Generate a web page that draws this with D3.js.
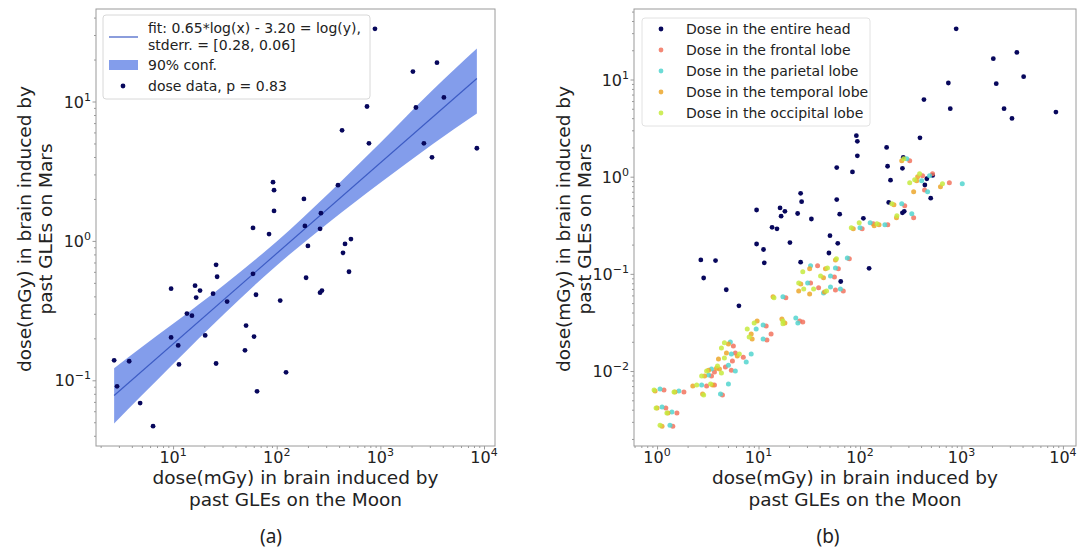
<!DOCTYPE html>
<html>
<head>
<meta charset="utf-8">
<title>Brain dose from past GLEs: Moon vs Mars</title>
<script src="https://cdn.jsdelivr.net/npm/d3@7"></script>
<style>
  body { margin: 0; background: #fff; }
  svg { font-family: "DejaVu Sans", sans-serif; }
</style>
</head>
<body>
<svg id="chart" width="1087" height="551"></svg>
<script>
// dose (mGy) in the entire head, one pair per GLE: [Moon, Mars]
const headDose = [
  [887, 33.2], [3516, 19.0], [2061, 16.4], [4102, 10.7], [743, 9.21], [2203, 9.06],
  [427, 6.21], [776, 5.01], [2630, 5.01], [8531, 4.62], [3148, 3.98], [92.1, 2.64],
  [94.2, 2.31], [390, 2.51], [183, 2.0], [94.2, 1.64], [59.0, 1.24], [84.3, 1.12],
  [187, 1.28], [267, 1.58], [262, 1.22], [200, 0.921], [520, 1.03], [456, 0.952],
  [436, 0.821], [498, 0.601], [26.0, 0.674], [26.6, 0.553], [59.0, 0.581], [192, 0.544],
  [9.57, 0.454], [16.3, 0.477], [18.2, 0.440], [16.7, 0.392], [24.3, 0.418], [63.1, 0.411],
  [262, 0.425], [273, 0.440], [108, 0.373], [33.2, 0.367], [13.6, 0.301], [15.2, 0.291],
  [50.6, 0.247], [60.4, 0.206], [20.4, 0.210], [9.57, 0.203], [11.2, 0.178], [49.4, 0.164],
  [2.70, 0.139], [3.77, 0.137], [11.4, 0.130], [26.0, 0.132], [123, 0.114], [2.88, 0.0906],
  [64.6, 0.0834], [4.81, 0.0686], [6.41, 0.0469]
];

// lobe doses: [Moon, Mars]
const frontalDose = [
  [1.17, 0.00637], [1.84, 0.00608], [1.22, 0.00416], [1.57, 0.00369], [1.43, 0.00271],
  [3.08, 0.00700], [4.41, 0.00566], [3.68, 0.00718], [3.44, 0.00887], [3.68, 0.00977],
  [4.72, 0.0110], [5.40, 0.0102], [5.91, 0.0153], [7.08, 0.0139], [5.53, 0.0127],
  [5.65, 0.0181], [13.3, 0.0241], [11.9, 0.0291], [12.1, 0.0209], [27.3, 0.0320],
  [25.5, 0.0328], [18.6, 0.0567], [32.6, 0.0807], [38.2, 0.121], [39.1, 0.0718],
  [57.3, 0.0684], [68.5, 0.0668], [56.0, 0.0931], [61.2, 0.113], [78.5, 0.143],
  [105, 0.291], [135, 0.327], [188, 0.320], [338, 0.378], [276, 0.502],
  [309, 1.46], [414, 1.02], [519, 1.07], [433, 0.73], [760, 0.867]
];
const parietalDose = [
  [1.07, 0.00652], [1.64, 0.00622], [1.12, 0.00426], [1.40, 0.00378], [1.34, 0.00277],
  [2.75, 0.00718], [4.22, 0.00580], [5.05, 0.00735], [3.22, 0.0091], [3.44, 0.0105],
  [5.05, 0.0115], [5.91, 0.0100], [5.40, 0.0150], [8.47, 0.0150], [7.57, 0.0124],
  [5.28, 0.0199], [9.48, 0.0271], [11.1, 0.0298], [11.1, 0.0214], [23.3, 0.0351],
  [24.4, 0.0313], [17.4, 0.0580], [30.5, 0.0807], [32.6, 0.121], [43.7, 0.0637],
  [51.2, 0.0734], [64.1, 0.0700], [51.2, 0.0953], [57.3, 0.115], [75.0, 0.146],
  [100, 0.298], [126, 0.336], [176, 0.320], [324, 0.416], [258, 0.527],
  [289, 1.53], [485, 1.02], [405, 0.91], [464, 0.70], [1019, 0.847]
];
const temporalDose = [
  [0.956, 0.00622], [1.50, 0.00608], [1.00, 0.00416], [1.28, 0.00369], [1.12, 0.00271],
  [2.25, 0.00700], [2.81, 0.00580], [3.52, 0.00718], [2.94, 0.00887], [3.22, 0.0102],
  [4.12, 0.0105], [3.85, 0.0107], [4.83, 0.0153], [6.18, 0.0143], [4.03, 0.0133],
  [5.05, 0.0190], [8.47, 0.0241], [9.69, 0.0328], [8.66, 0.0214], [17.0, 0.0343],
  [18.2, 0.0313], [13.9, 0.0580], [26.1, 0.0788], [31.9, 0.113], [24.9, 0.0668],
  [31.9, 0.0622], [44.7, 0.0652], [43.7, 0.0910], [45.7, 0.113], [57.3, 0.139],
  [85.9, 0.291], [138, 0.313], [154, 0.320], [229, 0.378], [216, 0.514],
  [258, 1.46], [370, 1.00], [362, 0.91], [338, 0.70], [621, 0.789]
];
const occipitalDose = [
  [0.935, 0.00637], [1.47, 0.00608], [0.978, 0.00416], [1.25, 0.00369], [1.07, 0.00277],
  [2.46, 0.00718], [2.88, 0.00566], [3.37, 0.00735], [2.75, 0.00887], [3.08, 0.0100],
  [4.31, 0.00953], [3.94, 0.0113], [4.31, 0.0173], [6.47, 0.0150], [4.61, 0.0136],
  [4.61, 0.0195], [7.74, 0.0271], [9.06, 0.0313], [8.09, 0.0224], [17.4, 0.0328],
  [17.4, 0.0306], [14.2, 0.0567], [24.9, 0.0807], [27.3, 0.105], [27.9, 0.0700],
  [34.9, 0.0700], [46.8, 0.0668], [40.9, 0.0953], [47.8, 0.115], [58.6, 0.143],
  [82.1, 0.298], [98.2, 0.336], [147, 0.327], [231, 0.396], [206, 0.527],
  [270, 1.53], [387, 1.07], [346, 0.93], [309, 0.867], [650, 0.847]
];

// fit (natural log): log(y) = 0.65*log(x) - 3.20, and its 90% confidence band
const fitSlope = 0.65;
const fitIntercept = -3.20;
const bandMoon = [2.7, 5, 10, 31.6, 100, 316, 1000, 3162, 8531];
const bandLow  = [0.049, 0.078, 0.131, 0.303, 0.667, 1.35, 2.61, 4.91, 8.2];
const bandHigh = [0.122, 0.173, 0.254, 0.489, 0.991, 2.19, 5.06, 12.0, 24.0];

const leftLegend = ['fit: 0.65*log(x) - 3.20 = log(y),', 'stderr. = [0.28, 0.06]', '90% conf.', 'dose data, p = 0.83'];
const seriesNames = ['Dose in the entire head', 'Dose in the frontal lobe', 'Dose in the parietal lobe',
                     'Dose in the temporal lobe', 'Dose in the occipital lobe'];
const seriesColors = ['#07075c', '#f2735e', '#52d5cf', '#eca72c', '#c5ea3e'];
const xTitle = ['dose(mGy) in brain induced by', 'past GLEs on the Moon'];
const yTitle = ['dose(mGy) in brain induced by', 'past GLEs on Mars'];
const panelLetters = ['(a)', '(b)'];

const svg = d3.select('#chart');
const frameColor = '#9a9a9a';
const textColor = '#222';

// matplotlib-like 5% margin in log space
function logExtent(values) {
  const lo = Math.log10(d3.min(values)), hi = Math.log10(d3.max(values));
  const pad = (hi - lo) * 0.05;
  return [Math.pow(10, lo - pad), Math.pow(10, hi + pad)];
}

function powLabel(g, x, y, exp, anchor) {
  const t = g.append('text')
      .attr('x', x).attr('y', y)
      .attr('text-anchor', anchor)
      .attr('font-size', 16)
      .attr('fill', textColor);
  t.append('tspan').text('10');
  t.append('tspan').attr('dy', -7).attr('font-size', 11)
      .text(exp < 0 ? '\u2212' + (-exp) : String(exp));
}

function minorTicks(scale) {
  const [a, b] = scale.domain();
  const out = [];
  for (let e = Math.floor(Math.log10(a)); e <= Math.ceil(Math.log10(b)); e++) {
    for (let m = 2; m <= 9; m++) {
      const v = m * Math.pow(10, e);
      if (v >= a && v <= b) out.push(v);
    }
  }
  return out;
}

function majorTicks(scale) {
  const [a, b] = scale.domain();
  return d3.range(Math.ceil(Math.log10(a)), Math.floor(Math.log10(b)) + 1);
}

function drawAxes(g, x, y, yLabelX) {
  const [x0, x1] = x.range(), [y1, y0] = y.range();

  const bottom = g.append('g').attr('transform', `translate(0,${y1})`);
  bottom.call(d3.axisBottom(x).tickValues(majorTicks(x).map(e => Math.pow(10, e))).tickSize(3.5).tickFormat(() => ''));
  bottom.append('g').call(d3.axisBottom(x).tickValues(minorTicks(x)).tickSize(2).tickFormat(() => ''));
  const left = g.append('g').attr('transform', `translate(${x0},0)`);
  left.call(d3.axisLeft(y).tickValues(majorTicks(y).map(e => Math.pow(10, e))).tickSize(3.5).tickFormat(() => ''));
  left.append('g').call(d3.axisLeft(y).tickValues(minorTicks(y)).tickSize(2).tickFormat(() => ''));
  g.selectAll('.domain').remove();
  g.selectAll('.tick line').attr('stroke', frameColor);

  g.append('rect')
      .attr('x', x0).attr('y', y0)
      .attr('width', x1 - x0).attr('height', y1 - y0)
      .attr('fill', 'none').attr('stroke', frameColor).attr('stroke-width', 1);

  majorTicks(x).forEach(e => powLabel(g, x(Math.pow(10, e)), y1 + 17, e, 'middle'));
  majorTicks(y).forEach(e => powLabel(g, x0 - 5, y(Math.pow(10, e)) + 6, e, 'end'));

  const cx = (x0 + x1) / 2;
  xTitle.forEach((s, i) => g.append('text')
      .attr('x', cx).attr('y', 484 + i * 22)
      .attr('text-anchor', 'middle').attr('font-size', 18.5).attr('fill', textColor)
      .text(s));
  const cy = 229;
  yTitle.forEach((s, i) => g.append('text')
      .attr('transform', `translate(${yLabelX + i * 21},${cy}) rotate(-90)`)
      .attr('text-anchor', 'middle').attr('font-size', 18.5).attr('fill', textColor)
      .text(s));
}

// ---------- panel (a) ----------
const gA = svg.append('g');
const xA = d3.scaleLog().domain(logExtent(headDose.map(d => d[0]))).range([96, 495]);
const yA = d3.scaleLog().domain(logExtent(headDose.map(d => d[1]))).range([446, 9]);

const band = d3.area()
    .x((d, i) => xA(bandMoon[i]))
    .y0((d, i) => yA(bandLow[i]))
    .y1((d, i) => yA(bandHigh[i]))
    .curve(d3.curveMonotoneX);
gA.append('path').datum(bandMoon).attr('d', band)
    .attr('fill', 'royalblue').attr('fill-opacity', 0.65);

const fitEnds = d3.extent(headDose, d => d[0]);
gA.append('path')
    .datum(fitEnds)
    .attr('d', d3.line().x(v => xA(v)).y(v => yA(Math.exp(fitIntercept) * Math.pow(v, fitSlope))))
    .attr('stroke', '#3d5cc4').attr('stroke-width', 1.2).attr('fill', 'none');

gA.append('g').selectAll('circle')
    .data(headDose).enter().append('circle')
    .attr('cx', d => xA(d[0])).attr('cy', d => yA(d[1]))
    .attr('r', 2.4).attr('fill', seriesColors[0]);

drawAxes(gA, xA, yA, 31);

// legend (a)
const lgA = gA.append('g');
lgA.append('rect').attr('x', 103).attr('y', 15).attr('width', 267).attr('height', 84)
    .attr('rx', 3).attr('fill', '#fff').attr('fill-opacity', 0.85).attr('stroke', '#d8d8d8');
lgA.append('line').attr('x1', 109).attr('x2', 138).attr('y1', 37).attr('y2', 37)
    .attr('stroke', '#3d5cc4').attr('stroke-width', 1.2);
lgA.append('rect').attr('x', 109).attr('y', 60).attr('width', 29).attr('height', 10)
    .attr('fill', 'royalblue').attr('fill-opacity', 0.65);
lgA.append('circle').attr('cx', 123).attr('cy', 86).attr('r', 2.4).attr('fill', seriesColors[0]);
[33, 50, 70, 91].forEach((yy, i) => lgA.append('text')
    .attr('x', 148).attr('y', yy).attr('font-size', 14).attr('fill', textColor)
    .text(leftLegend[i]));

// ---------- panel (b) ----------
const gB = svg.append('g');
const allSeries = [headDose, frontalDose, parietalDose, temporalDose, occipitalDose];
const allPts = allSeries.flat();
const xB = d3.scaleLog().domain(logExtent(allPts.map(d => d[0]))).range([634, 1076]);
const yB = d3.scaleLog().domain(logExtent(allPts.map(d => d[1]))).range([446, 9]);

allSeries.forEach((series, k) => {
  gB.append('g').selectAll('circle')
      .data(series).enter().append('circle')
      .attr('cx', d => xB(d[0])).attr('cy', d => yB(d[1]))
      .attr('r', k === 0 ? 2.4 : 2.5)
      .attr('fill', seriesColors[k])
      .attr('fill-opacity', k === 0 ? 1 : 0.85);
});

drawAxes(gB, xB, yB, 570);

// legend (b)
const lgB = gB.append('g');
lgB.append('rect').attr('x', 642).attr('y', 18).attr('width', 228).attr('height', 108)
    .attr('rx', 3).attr('fill', '#fff').attr('fill-opacity', 0.85).attr('stroke', '#e2e2e2');
seriesNames.forEach((s, i) => {
  const yy = 29 + i * 21;
  lgB.append('circle').attr('cx', 661).attr('cy', yy).attr('r', 2.4)
      .attr('fill', seriesColors[i]).attr('fill-opacity', i === 0 ? 1 : 0.85);
  lgB.append('text').attr('x', 686).attr('y', yy + 5)
      .attr('font-size', 14).attr('fill', textColor).text(s);
});

// panel letters
[271, 828].forEach((px, i) => svg.append('text')
    .attr('x', px).attr('y', 543)
    .attr('text-anchor', 'middle')
    .attr('font-family', '"Noto Sans", sans-serif')
    .attr('font-size', 19).attr('fill', textColor)
    .text(panelLetters[i]));
</script>
</body>
</html>
